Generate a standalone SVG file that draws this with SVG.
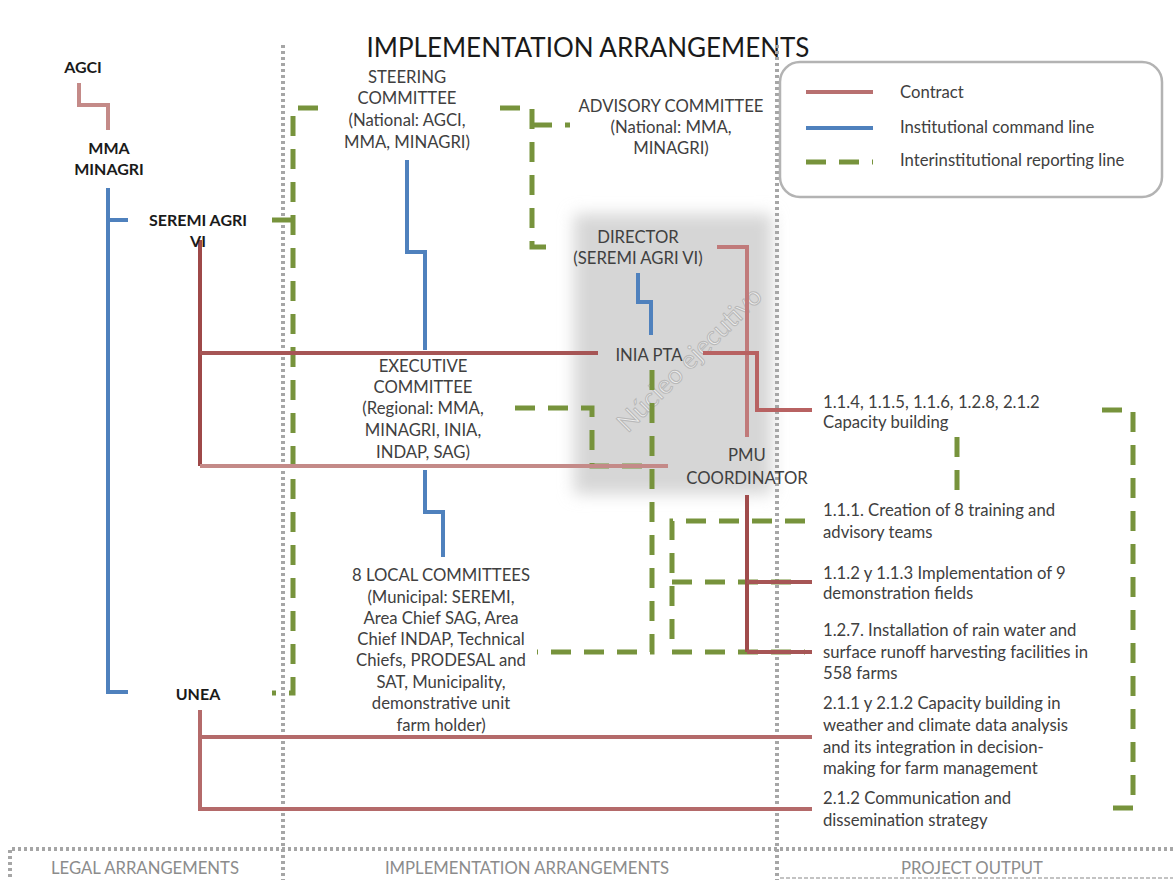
<svg xmlns="http://www.w3.org/2000/svg" width="1173" height="880" viewBox="0 0 1173 880">
<defs>
<filter id="blur" x="-20%" y="-20%" width="140%" height="140%"><feGaussianBlur stdDeviation="8"/></filter>
<style>
text{font-family:Lato,"Liberation Sans",sans-serif;fill:#404040;font-size:16.7px}
.b{font-weight:bold;fill:#1a1a1a;font-size:16px}
.c{text-anchor:middle}
.t{font-size:26px;fill:#1a1a1a}
.f{fill:#8c8c8c;font-size:16.7px}
.dot{stroke:#a6a6a6;stroke-width:4;stroke-dasharray:3 3;fill:none}
.g{stroke:#77933c;stroke-width:5;stroke-dasharray:20 13;fill:none}
.bl{stroke:#4f81bd;stroke-width:4;fill:none}
.r{stroke:#a65555;stroke-width:4;fill:none}
.rl{stroke:#c48a88;stroke-width:4;fill:none}
</style>
</defs>
<rect width="1173" height="880" fill="#ffffff"/>
<g id="nucleo">
<rect x="574" y="214" width="198" height="280" fill="#d6d6d6" filter="url(#blur)"/>
<text x="690" y="368" class="c" transform="rotate(-45 690 360)" style="font-size:26px;fill:#ececec;stroke:#b8b8b8;stroke-width:1">Núcleo ejecutivo</text>
</g>
<text id="title" x="588" y="57" class="c t">IMPLEMENTATION ARRANGEMENTS</text>
<g id="dividers">
<line x1="283" y1="45" x2="283" y2="880" class="dot"/>
<line x1="777" y1="45" x2="777" y2="880" class="dot"/>
<path d="M1173,849 H10 V880" class="dot"/>
<line x1="780" y1="878" x2="1173" y2="878" stroke="#b0b0b0" stroke-width="1.5" stroke-dasharray="4 2"/>
</g>
<g id="legend">
<rect x="780" y="62" width="382" height="135" rx="20" fill="#ffffff" stroke="#b3b3b3" stroke-width="2.5"/>
<line x1="806" y1="92" x2="873" y2="92" class="r" style="stroke:#b87070"/>
<line x1="806" y1="128" x2="873" y2="128" class="bl"/>
<line x1="806" y1="162" x2="873" y2="162" class="g"/>
<text x="900" y="98">Contract</text>
<text x="900" y="133">Institutional command line</text>
<text x="900" y="166">Interinstitutional reporting line</text>
</g>
<g id="connectors">
<path d="M318,108 H293 V693 H272" class="g"/>
<path d="M272,220 H293" class="g" style="stroke-dasharray:none"/>
<path d="M500,108 H532 V247 H556" class="g"/>
<path d="M532,125 H570" class="g"/>
<path d="M515,408 H592 V466 H652" class="g"/>
<path d="M652,370 V652 H537" class="g"/>
<path d="M805,521 H672 V652 H805" class="g"/>
<path d="M672,582 H800" class="g"/>
<path d="M1102,410 H1133 V808 H1102" class="g"/>
<path d="M957,437 V490" class="g"/>
<path d="M108,188 V692 H128" class="bl"/>
<path d="M108,220 H128" class="bl"/>
<path d="M407,160 V252 H425 V350" class="bl"/>
<path d="M425,470 V512 H443 V557" class="bl"/>
<path d="M638,273 V302 H651 V335" class="bl"/>
<path d="M79,83 V105 H108 V130" class="rl"/>
<path d="M200,240 V466" class="r" style="stroke:#9e4848"/>
<path d="M200,353 H598" class="r"/>
<path d="M200,466 H668" class="rl"/>
<path d="M717,247 H747 V437" class="rl" style="stroke:#c07a7a"/>
<path d="M703,353 H757 V410 H812" class="r" style="stroke:#b86262"/>
<path d="M747,495 V652" class="r" style="stroke:#a04c4c"/>
<path d="M747,582 H812" class="r"/>
<path d="M747,652 H812" class="r"/>
<path d="M200,710 V809 H812" class="r" style="stroke:#b46a6a"/>
<path d="M200,737 H812" class="r" style="stroke:#b46a6a"/>
</g>
<g id="agci"><text x="83" y="73" class="b c">AGCI</text></g>
<g id="mma"><text x="109" y="154" class="b c">MMA</text><text x="109" y="175" class="b c">MINAGRI</text></g>
<g id="seremi"><text x="198" y="226" class="b c">SEREMI AGRI</text><text x="198" y="247" class="b c">VI</text></g>
<g id="unea"><text x="198" y="700" class="b c">UNEA</text></g>
<g id="steering">
<text x="407" y="83" class="c">STEERING</text>
<text x="407" y="104" class="c">COMMITTEE</text>
<text x="407" y="126" class="c">(National: AGCI,</text>
<text x="407" y="148" class="c">MMA, MINAGRI)</text>
</g>
<g id="advisory">
<text x="671" y="112" class="c">ADVISORY COMMITTEE</text>
<text x="671" y="133" class="c">(National: MMA,</text>
<text x="671" y="154" class="c">MINAGRI)</text>
</g>
<g id="director">
<text x="638" y="243" class="c">DIRECTOR</text>
<text x="638" y="264" class="c">(SEREMI AGRI VI)</text>
</g>
<g id="inia"><text x="649" y="361" class="c">INIA PTA</text></g>
<g id="executive">
<text x="423" y="372" class="c">EXECUTIVE</text>
<text x="423" y="393" class="c">COMMITTEE</text>
<text x="423" y="414" class="c">(Regional: MMA,</text>
<text x="423" y="436" class="c">MINAGRI, INIA,</text>
<text x="423" y="458" class="c">INDAP, SAG)</text>
</g>
<g id="pmu">
<text x="747" y="461" class="c">PMU</text>
<text x="747" y="484" class="c">COORDINATOR</text>
</g>
<g id="local">
<text x="441" y="581" class="c">8 LOCAL COMMITTEES</text>
<text x="441" y="603" class="c">(Municipal: SEREMI,</text>
<text x="441" y="624" class="c">Area Chief SAG, Area</text>
<text x="441" y="645" class="c">Chief INDAP, Technical</text>
<text x="441" y="666" class="c">Chiefs, PRODESAL and</text>
<text x="441" y="688" class="c">SAT, Municipality,</text>
<text x="441" y="709" class="c">demonstrative unit</text>
<text x="441" y="731" class="c">farm holder)</text>
</g>
<g id="out1"><text x="823" y="408">1.1.4, 1.1.5, 1.1.6, 1.2.8, 2.1.2</text><text x="823" y="428">Capacity building</text></g>
<g id="out2"><text x="823" y="516">1.1.1. Creation of 8 training and</text><text x="823" y="538">advisory teams</text></g>
<g id="out3"><text x="823" y="579">1.1.2 y 1.1.3 Implementation of 9</text><text x="823" y="599">demonstration fields</text></g>
<g id="out4"><text x="823" y="636">1.2.7. Installation of rain water and</text><text x="823" y="658">surface runoff harvesting facilities in</text><text x="823" y="679">558  farms</text></g>
<g id="out5"><text x="823" y="709">2.1.1 y 2.1.2 Capacity building in</text><text x="823" y="731">weather and climate data analysis</text><text x="823" y="753">and its integration in decision-</text><text x="823" y="774">making for farm management</text></g>
<g id="out6"><text x="823" y="804">2.1.2 Communication and</text><text x="823" y="826">dissemination strategy</text></g>
<g id="footer">
<text x="145" y="874" class="c f">LEGAL ARRANGEMENTS</text>
<text x="527" y="874" class="c f">IMPLEMENTATION ARRANGEMENTS</text>
<text x="972" y="874" class="c f">PROJECT OUTPUT</text>
</g>
</svg>
